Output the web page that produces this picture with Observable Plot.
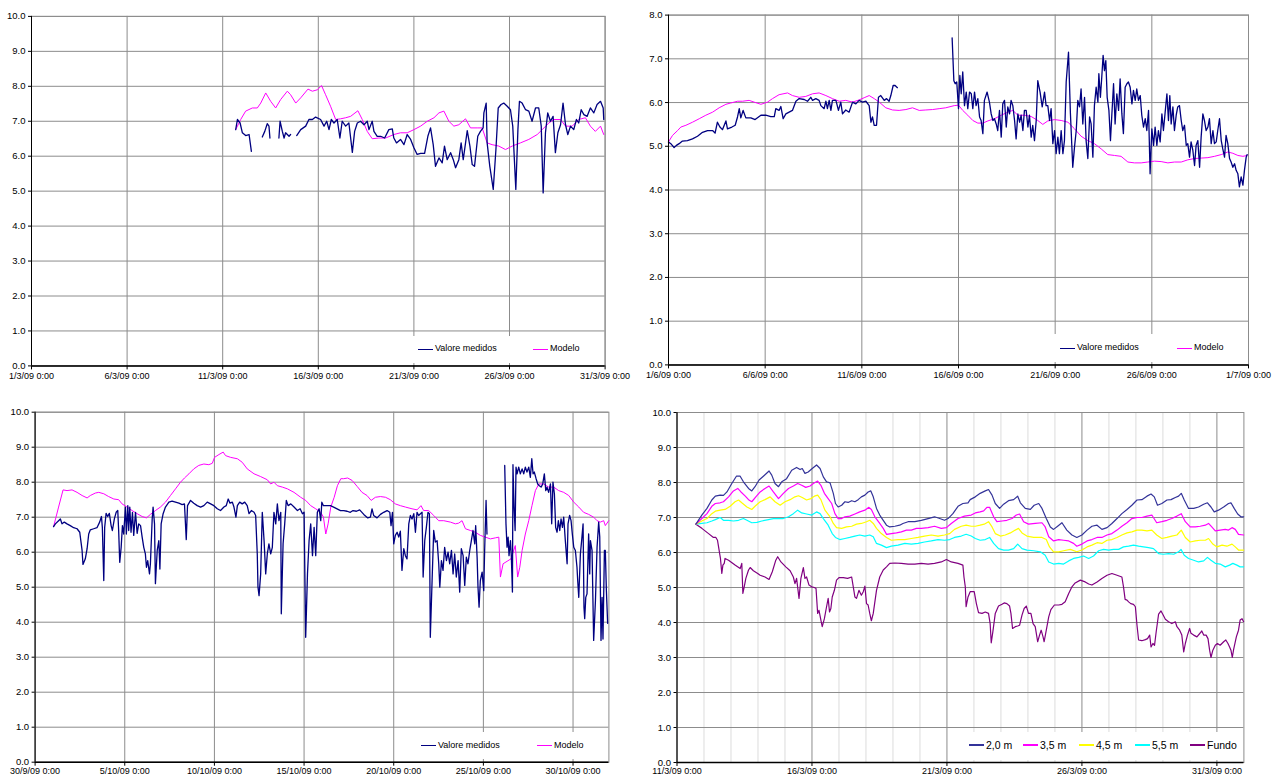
<!DOCTYPE html>
<html>
<head>
<meta charset="utf-8">
<script src="https://cdn.jsdelivr.net/npm/d3@7"></script>
<script src="https://cdn.jsdelivr.net/npm/@observablehq/plot@0.6"></script>
<style>
  html, body { margin: 0; padding: 0; background: #fff; overflow: hidden; width: 1272px; height: 776px; }
  #root { position: relative; width: 1272px; height: 776px; overflow: hidden; }
  .panel { position: absolute; }
  .legend { position: absolute; background: #fff; }
</style>
</head>
<body>
<div id="root"></div>
<script>
// ---------------- DATA (x = days since first axis date, y = value) ----------------
// Panel 1: March 2009 (1/3/09 .. 31/3/09)
const marchMeasured = [
[10.68,6.76],[10.77,7.05],[10.91,6.95],[11.03,6.67],[11.20,6.59],[11.38,6.62],[11.50,6.14],[11.8,null],
[12.07,6.55],[12.20,6.71],[12.33,6.93],[12.42,6.86],[12.47,6.52],[12.7,null],
[12.94,6.52],[13.00,7.00],[13.12,6.71],[13.21,6.52],[13.29,6.67],[13.47,6.57],[13.55,6.62],[13.7,null],
[13.87,6.59],[14.08,6.76],[14.34,6.86],[14.51,7.05],[14.69,7.05],[14.86,7.12],[15.12,7.05],[15.30,6.86],[15.44,7.00],[15.56,6.76],[15.68,7.05],[15.82,6.95],[15.99,7.05],[16.13,6.52],[16.25,7.00],[16.43,6.86],[16.60,6.95],[16.78,6.11],[16.90,6.71],[17.04,6.95],[17.21,7.00],[17.39,6.90],[17.56,7.00],[17.65,6.76],[17.82,7.00],[17.91,6.71],[18.08,6.57],[18.26,6.57],[18.47,6.52],[18.69,6.76],[18.87,6.78],[18.95,6.52],[19.09,6.38],[19.30,6.48],[19.48,6.33],[19.65,6.62],[19.83,6.48],[20.00,6.24],[20.17,6.05],[20.35,6.08],[20.56,6.08],[20.73,6.57],[20.87,6.81],[21.01,6.33],[21.13,5.71],[21.31,5.95],[21.48,5.81],[21.60,6.29],[21.74,5.90],[21.92,6.10],[22.06,5.90],[22.18,5.67],[22.35,5.90],[22.47,6.38],[22.58,5.90],[22.79,6.73],[22.93,6.29],[23.05,5.76],[23.17,5.71],[23.34,6.57],[23.48,6.71],[23.62,6.81],[23.66,7.24],[23.78,7.52],[23.83,6.38],[23.97,5.71],[24.15,5.05],[24.29,6.19],[24.41,7.38],[24.56,7.48],[24.70,7.52],[24.88,7.43],[25.05,7.33],[25.17,6.86],[25.33,5.05],[25.44,6.76],[25.52,7.57],[25.66,7.52],[25.84,7.33],[26.01,7.29],[26.18,7.00],[26.36,7.38],[26.53,7.38],[26.66,6.86],[26.76,4.95],[26.88,6.67],[27.00,7.24],[27.14,7.00],[27.28,7.14],[27.40,6.10],[27.53,6.67],[27.67,6.90],[27.80,7.52],[27.93,6.90],[28.05,6.62],[28.19,6.86],[28.36,6.76],[28.50,7.05],[28.62,6.95],[28.75,7.33],[28.89,7.19],[29.06,7.14],[29.23,7.38],[29.41,7.24],[29.58,7.48],[29.76,7.57],[29.90,7.38],[29.93,7.05]
];
const marchModel = [
[10.68,6.76],[10.94,7.05],[11.20,7.29],[11.55,7.38],[11.81,7.38],[11.99,7.52],[12.25,7.81],[12.51,7.57],[12.77,7.38],[13.03,7.62],[13.38,7.86],[13.55,7.76],[13.82,7.52],[14.08,7.67],[14.46,7.92],[14.69,7.86],[14.95,7.90],[15.17,8.02],[15.38,7.76],[15.64,7.43],[15.91,7.05],[16.17,7.07],[16.43,7.10],[16.69,7.14],[17.07,7.30],[17.30,7.05],[17.56,6.71],[17.82,6.50],[18.17,6.52],[18.52,6.52],[18.95,6.62],[19.30,6.67],[19.65,6.67],[20.00,6.76],[20.35,6.86],[20.70,7.00],[21.05,7.10],[21.31,7.24],[21.57,7.29],[21.83,7.00],[22.09,6.86],[22.35,6.90],[22.70,7.07],[22.96,6.81],[23.31,6.81],[23.57,6.81],[23.83,6.38],[24.09,6.33],[24.44,6.29],[24.79,6.19],[25.14,6.29],[25.57,6.38],[26.01,6.48],[26.45,6.62],[26.71,6.76],[27.06,6.95],[27.32,7.05],[27.67,7.05],[27.93,6.86],[28.28,6.86],[28.62,7.05],[28.97,7.10],[29.23,6.86],[29.49,6.71],[29.76,6.86],[29.93,6.62]
];

// Panel 2: June 2009 (1/6/09 .. 1/7/09)
const juneMeasured = [
[0,5.10],[0.12,5.06],[0.29,4.97],[0.41,5.02],[0.55,5.06],[0.72,5.12],[0.98,5.13],[1.24,5.17],[1.50,5.23],[1.76,5.32],[2.02,5.36],[2.28,5.36],[2.41,5.30],[2.53,5.55],[2.66,5.44],[2.79,5.38],[2.97,5.58],[3.05,5.40],[3.28,5.44],[3.45,5.48],[3.57,5.67],[3.66,5.86],[3.74,5.65],[3.86,5.82],[4.00,5.65],[4.26,5.65],[4.48,5.61],[4.78,5.71],[5.03,5.71],[5.29,5.68],[5.47,5.68],[5.55,5.86],[5.72,5.82],[5.81,5.91],[5.93,5.63],[6.07,5.74],[6.24,5.78],[6.41,5.82],[6.59,6.03],[6.76,6.09],[7.02,6.07],[7.19,6.03],[7.36,6.12],[7.45,6.05],[7.62,6.09],[7.79,6.05],[7.88,5.93],[8.05,5.86],[8.14,6.03],[8.22,5.86],[8.31,6.05],[8.40,5.82],[8.48,6.05],[8.66,6.05],[8.79,5.82],[8.91,6.01],[9.00,5.74],[9.17,5.83],[9.34,5.78],[9.52,6.01],[9.69,5.97],[9.86,6.05],[10.03,6.01],[10.21,6.03],[10.38,5.93],[10.47,5.55],[10.55,5.67],[10.64,5.48],[10.76,5.48],[10.86,6.12],[10.98,6.16],[11.16,6.05],[11.28,6.09],[11.41,6.03],[11.50,6.16],[11.62,6.39],[11.72,6.39],[11.84,6.34],[13.0,null],
[14.67,7.48],[14.76,6.50],[14.83,6.43],[14.91,6.47],[15.00,5.86],[15.07,6.62],[15.14,6.20],[15.22,6.70],[15.31,5.93],[15.40,6.24],[15.48,5.86],[15.57,6.24],[15.66,6.20],[15.74,5.86],[15.83,6.24],[15.91,5.93],[16.00,6.09],[16.09,5.67],[16.17,5.59],[16.26,5.29],[16.34,6.05],[16.48,6.24],[16.60,6.01],[16.69,5.74],[16.78,5.59],[16.86,5.63],[16.95,5.51],[17.03,5.36],[17.12,5.82],[17.21,5.21],[17.29,5.97],[17.38,6.05],[17.47,5.44],[17.55,5.90],[17.64,5.74],[17.72,6.05],[17.81,5.93],[17.90,5.59],[17.98,5.17],[18.07,5.74],[18.16,5.55],[18.24,5.71],[18.33,5.36],[18.41,5.82],[18.50,5.82],[18.59,5.44],[18.67,5.71],[18.76,5.21],[18.84,5.48],[18.93,5.13],[19.02,5.59],[19.10,6.50],[19.22,6.24],[19.33,5.90],[19.45,6.24],[19.53,5.93],[19.62,5.93],[19.71,5.59],[19.79,5.86],[19.88,5.06],[19.97,5.36],[20.05,4.83],[20.14,5.21],[20.22,4.83],[20.31,5.36],[20.40,4.83],[20.48,5.13],[20.57,6.47],[20.69,7.15],[20.79,5.74],[20.91,4.52],[21.00,4.98],[21.09,5.36],[21.17,6.05],[21.26,5.90],[21.34,6.31],[21.43,5.51],[21.52,6.12],[21.60,5.13],[21.69,4.72],[21.78,5.67],[21.86,5.51],[21.95,4.75],[22.03,5.93],[22.12,6.35],[22.21,6.01],[22.26,6.66],[22.34,6.12],[22.41,6.58],[22.48,7.08],[22.55,6.73],[22.62,6.96],[22.69,6.12],[22.78,5.82],[22.86,5.13],[22.93,5.71],[23.02,6.43],[23.10,5.51],[23.19,6.20],[23.28,5.82],[23.36,6.54],[23.45,5.74],[23.53,5.29],[23.62,6.35],[23.71,6.43],[23.79,6.47],[23.88,6.35],[23.97,5.97],[24.05,6.28],[24.14,6.05],[24.22,6.31],[24.31,6.05],[24.40,6.16],[24.48,5.71],[24.57,5.44],[24.66,5.63],[24.74,5.36],[24.83,5.82],[24.91,4.37],[25.00,5.40],[25.09,5.02],[25.17,5.44],[25.26,5.02],[25.34,5.36],[25.43,5.10],[25.52,5.74],[25.60,5.36],[25.69,5.78],[25.78,6.20],[25.86,5.59],[25.93,6.16],[26.00,5.51],[26.09,5.90],[26.17,5.36],[26.26,5.71],[26.34,5.90],[26.43,5.93],[26.52,5.59],[26.60,5.36],[26.69,5.48],[26.78,5.02],[26.86,5.06],[26.95,4.75],[27.03,5.10],[27.12,4.91],[27.21,4.56],[27.29,5.02],[27.38,5.13],[27.47,4.52],[27.55,5.21],[27.64,5.74],[27.72,5.59],[27.81,5.36],[27.90,5.44],[27.98,5.63],[28.07,5.06],[28.16,5.36],[28.24,5.06],[28.33,5.10],[28.41,5.36],[28.50,5.63],[28.59,5.13],[28.67,4.94],[28.76,4.75],[28.84,5.25],[28.93,5.06],[29.02,4.72],[29.10,4.64],[29.19,4.52],[29.28,4.60],[29.36,4.45],[29.45,4.37],[29.53,4.07],[29.62,4.30],[29.71,4.11],[29.79,4.45],[29.88,4.75],[29.93,4.81]
];
const juneModel = [
[0,5.10],[0.21,5.25],[0.47,5.36],[0.64,5.44],[0.90,5.48],[1.24,5.55],[1.59,5.63],[1.93,5.71],[2.28,5.78],[2.62,5.88],[2.97,5.96],[3.22,5.99],[3.57,6.03],[3.83,6.03],[4.17,6.05],[4.43,6.01],[4.78,5.96],[5.12,6.01],[5.38,6.09],[5.72,6.18],[6.16,6.22],[6.41,6.16],[6.76,6.12],[7.10,6.14],[7.45,6.20],[7.79,6.22],[8.14,6.16],[8.48,6.09],[8.83,6.03],[9.17,6.05],[9.52,6.01],[9.86,6.06],[10.12,6.11],[10.38,6.16],[10.64,6.09],[10.90,6.01],[11.24,5.88],[11.59,5.83],[11.93,5.82],[12.28,5.84],[12.62,5.88],[12.97,5.82],[13.31,5.83],[13.66,5.84],[14.00,5.86],[14.34,5.88],[14.78,5.93],
[15.00,5.94],[15.22,5.82],[15.48,5.71],[15.74,5.59],[16.00,5.53],[16.26,5.53],[16.52,5.58],[16.86,5.63],[17.21,5.71],[17.55,5.78],[17.81,5.82],[18.07,5.71],[18.41,5.71],[18.76,5.68],[19.10,5.59],[19.36,5.50],[19.62,5.58],[19.97,5.61],[20.31,5.59],[20.66,5.55],[21.00,5.40],[21.34,5.23],[21.69,5.13],[22.03,5.06],[22.38,4.94],[22.72,4.81],[23.07,4.79],[23.41,4.77],[23.76,4.64],[24.10,4.62],[24.45,4.62],[24.79,4.64],[25.14,4.66],[25.48,4.65],[25.83,4.62],[26.17,4.64],[26.52,4.64],[26.86,4.69],[27.21,4.72],[27.55,4.73],[27.90,4.74],[28.24,4.77],[28.59,4.81],[28.93,4.87],[29.19,4.84],[29.45,4.79],[29.71,4.77],[29.93,4.79]
];

// Panel 3: October 2009 (30/9/09 .. 1/11/09)
const octMeasured = [
[1.03,6.73],[1.13,6.81],[1.31,6.90],[1.41,6.95],[1.50,6.81],[1.63,6.86],[1.78,6.81],[1.96,6.76],[2.15,6.70],[2.34,6.67],[2.49,6.57],[2.62,6.05],[2.67,5.65],[2.80,5.81],[2.90,6.10],[2.99,6.52],[3.08,6.64],[3.27,6.67],[3.45,6.70],[3.60,6.86],[3.70,7.02],[3.75,6.71],[3.83,5.19],[3.88,6.71],[3.96,7.11],[4.05,7.02],[4.14,7.11],[4.24,6.76],[4.31,6.62],[4.42,6.95],[4.52,7.14],[4.61,7.19],[4.66,6.62],[4.72,5.71],[4.80,6.14],[4.87,6.76],[4.94,6.52],[5.04,7.29],[5.09,6.52],[5.17,7.33],[5.22,6.62],[5.28,7.29],[5.35,6.57],[5.43,7.14],[5.50,6.48],[5.60,7.14],[5.69,6.54],[5.78,6.81],[5.88,6.76],[5.97,6.43],[6.06,6.14],[6.15,5.95],[6.21,5.57],[6.28,5.76],[6.38,5.38],[6.43,5.67],[6.53,6.95],[6.58,7.29],[6.66,6.81],[6.71,5.10],[6.81,6.05],[6.90,6.33],[6.96,5.52],[7.03,6.81],[7.14,7.10],[7.27,7.29],[7.46,7.43],[7.64,7.46],[7.83,7.43],[8.02,7.40],[8.20,7.36],[8.33,7.38],[8.43,6.36],[8.50,7.33],[8.67,7.48],[8.85,7.40],[9.04,7.33],[9.23,7.29],[9.41,7.33],[9.60,7.43],[9.79,7.38],[9.97,7.33],[10.16,7.24],[10.34,7.19],[10.53,7.29],[10.66,7.33],[10.77,7.52],[10.87,7.40],[11.00,7.43],[11.09,7.29],[11.20,7.00],[11.28,7.33],[11.41,7.43],[11.55,7.38],[11.69,7.43],[11.83,7.33],[11.93,7.10],[12.06,7.19],[12.21,7.14],[12.30,7.05],[12.39,5.95],[12.43,5.00],[12.49,4.76],[12.58,5.38],[12.67,7.14],[12.77,6.33],[12.86,5.38],[12.95,5.95],[13.04,6.24],[13.14,5.95],[13.23,6.14],[13.32,7.14],[13.42,6.81],[13.51,7.38],[13.60,6.90],[13.70,7.14],[13.73,4.24],[13.83,6.24],[13.92,6.81],[14.01,7.48],[14.11,7.33],[14.26,7.38],[14.44,7.29],[14.63,7.19],[14.78,7.24],[14.91,7.10],[15.00,7.14],[15.09,3.57],[15.19,5.38],[15.28,6.33],[15.37,6.81],[15.47,5.90],[15.56,6.71],[15.65,5.90],[15.74,7.14],[15.84,7.24],[15.93,6.90],[15.99,7.43],[16.08,7.33],[16.30,7.33],
[16.47,7.33],[16.65,7.29],[16.84,7.24],[17.03,7.19],[17.21,7.19],[17.40,7.17],[17.58,7.14],[17.73,7.19],[17.92,7.17],[18.10,7.21],[18.33,7.08],[18.55,6.98],[18.70,7.00],[18.79,7.24],[18.88,7.05],[19.07,6.98],[19.26,7.08],[19.44,7.14],[19.63,7.19],[19.78,7.14],[19.85,6.76],[19.93,7.14],[20.00,6.24],[20.09,6.48],[20.19,6.57],[20.28,6.43],[20.37,6.60],[20.46,5.48],[20.56,6.10],[20.65,5.90],[20.74,5.81],[20.84,6.81],[20.93,7.05],[21.02,6.95],[21.12,7.10],[21.21,6.57],[21.30,7.14],[21.39,7.05],[21.49,7.10],[21.58,7.14],[21.64,5.29],[21.73,6.33],[21.82,6.71],[21.91,7.14],[21.99,7.10],[22.04,3.57],[22.14,5.19],[22.23,6.62],[22.32,6.29],[22.42,6.33],[22.51,5.67],[22.57,5.00],[22.66,5.76],[22.75,5.48],[22.84,6.14],[22.94,5.76],[23.03,6.00],[23.12,5.67],[23.22,6.05],[23.31,5.38],[23.40,5.95],[23.49,5.29],[23.59,5.76],[23.68,4.86],[23.77,6.10],[23.87,5.90],[23.96,5.05],[24.05,5.86],[24.14,5.67],[24.24,6.05],[24.33,6.33],[24.42,6.62],[24.52,6.24],[24.57,6.76],[24.65,5.86],[24.70,5.00],[24.76,4.43],[24.83,5.19],[24.93,5.43],[25.02,4.90],[25.07,6.05],[25.15,7.48],[25.20,6.52],[25.7,null],
[26.19,8.48],[26.26,6.81],[26.32,6.14],[26.38,6.43],[26.43,5.90],[26.51,6.33],[26.56,5.86],[26.62,4.86],[26.65,8.50],[26.71,7.29],[26.77,6.62],[26.82,8.43],[26.88,8.24],[26.97,8.43],[27.06,8.24],[27.16,8.38],[27.25,8.24],[27.34,8.43],[27.43,8.29],[27.53,8.43],[27.62,8.14],[27.70,8.67],[27.77,8.24],[27.84,8.29],[27.94,8.10],[28.03,7.95],[28.12,7.90],[28.22,7.86],[28.31,7.95],[28.40,8.24],[28.48,7.76],[28.55,7.86],[28.64,7.71],[28.74,7.95],[28.81,6.81],[28.88,8.00],[28.96,7.67],[29.03,6.71],[29.11,6.57],[29.18,6.90],[29.26,6.62],[29.33,6.95],[29.41,6.71],[29.48,7.00],[29.57,6.33],[29.67,5.67],[29.72,6.81],[29.81,7.05],[29.89,6.90],[29.96,6.52],[30.04,6.14],[30.13,6.05],[30.22,5.57],[30.26,5.19],[30.32,4.71],[30.41,5.95],[30.48,6.33],[30.56,6.81],[30.61,4.43],[30.65,4.10],[30.71,4.71],[30.78,4.81],[30.87,6.52],[30.93,5.38],[30.97,6.33],[31.06,6.05],[31.15,3.48],[31.25,4.62],[31.34,6.14],[31.43,6.86],[31.49,6.43],[31.56,3.48],[31.62,4.71],[31.67,3.52],[31.75,6.05],[31.80,6.05],[31.86,4.90],[31.93,3.97]
];
const octModel = [
[1.03,6.73],[1.31,7.29],[1.56,7.78],[1.78,7.76],[2.06,7.78],[2.34,7.71],[2.62,7.62],[2.90,7.55],[3.08,7.62],[3.36,7.69],[3.55,7.71],[3.83,7.67],[4.10,7.59],[4.39,7.52],[4.66,7.50],[4.85,7.38],[5.13,7.29],[5.41,7.19],[5.69,7.10],[5.97,7.02],[6.21,6.98],[6.43,7.08],[6.71,7.19],[6.99,7.29],[7.27,7.43],[7.55,7.62],[7.83,7.81],[8.11,8.00],[8.33,8.12],[8.58,8.24],[8.85,8.38],[9.13,8.48],[9.41,8.52],[9.69,8.50],[9.88,8.54],[10.01,8.71],[10.25,8.79],[10.49,8.86],[10.62,8.76],[10.90,8.71],[11.28,8.67],[11.55,8.57],[11.83,8.38],[12.21,8.24],[12.58,8.16],[12.95,8.07],[13.14,7.95],[13.32,8.00],[13.51,7.90],[13.79,7.86],[14.07,7.81],[14.44,7.71],[14.81,7.57],[15.09,7.48],[15.37,7.33],[15.65,7.24],[15.93,7.14],[16.08,7.00],[16.21,6.52],[16.34,6.81],[16.49,7.29],[16.68,7.57],[16.86,7.90],[17.05,8.10],
[17.21,8.10],[17.43,8.12],[17.68,8.05],[17.96,7.88],[18.23,7.71],[18.51,7.62],[18.74,7.48],[18.98,7.57],[19.26,7.59],[19.54,7.57],[19.81,7.50],[20.09,7.38],[20.37,7.33],[20.65,7.29],[21.02,7.24],[21.30,7.21],[21.52,7.33],[21.67,7.19],[21.95,7.19],[22.23,7.05],[22.51,6.90],[22.79,6.90],[23.16,6.86],[23.44,6.81],[23.62,6.83],[23.81,6.90],[24.00,6.67],[24.28,6.62],[24.55,6.57],[24.83,6.48],[25.11,6.43],[25.39,6.38],[25.67,6.41],[25.86,6.43],[25.95,5.29],[26.10,5.67],[26.32,5.74],[26.54,5.81],[26.78,6.19],[26.91,5.29],[27.03,5.57],[27.16,6.05],[27.34,6.52],[27.53,6.90],[27.71,7.33],[27.90,7.76],[28.09,7.95],[28.36,7.95],[28.64,7.86],[28.92,7.86],[29.20,7.76],[29.48,7.71],[29.76,7.62],[30.04,7.43],[30.32,7.29],[30.59,7.14],[30.87,7.08],[31.15,7.00],[31.34,6.90],[31.52,6.86],[31.71,6.90],[31.80,6.76],[31.99,6.90]
];

// Panel 4: depth profiles (11/3/09 .. 1/4/09)
const depth20 = [
[0.70,6.81],[0.92,7.07],[1.11,7.26],[1.29,7.50],[1.42,7.61],[1.60,7.64],[1.72,7.63],[1.85,7.73],[2.03,7.97],[2.20,8.18],[2.34,8.18],[2.46,8.02],[2.65,7.83],[2.77,7.76],[2.89,7.88],[3.04,8.07],[3.20,8.18],[3.41,8.33],[3.51,8.21],[3.63,7.97],[3.76,7.88],[3.88,8.02],[4.06,8.11],[4.25,8.35],[4.43,8.43],[4.56,8.37],[4.64,8.40],[4.74,8.26],[4.86,8.30],[5.01,8.40],[5.17,8.50],[5.30,8.40],[5.42,8.16],[5.54,8.02],[5.67,7.99],[5.79,7.69],[5.87,7.40],[5.97,7.30],[6.10,7.35],[6.22,7.45],[6.34,7.43],[6.47,7.48],[6.59,7.45],[6.71,7.51],[6.83,7.59],[6.96,7.64],[7.08,7.73],[7.18,7.76],[7.27,7.59],[7.39,7.26],[7.51,7.07],[7.64,6.92],[7.76,6.78],[7.88,6.73],[8.07,6.75],[8.25,6.78],[8.37,6.83],[8.56,6.88],[8.81,6.88],[9.05,6.92],[9.30,6.97],[9.54,7.02],[9.73,6.97],[9.91,6.92],[10.04,6.97],[10.22,7.11],[10.41,7.32],[10.59,7.40],[10.78,7.42],
[10.86,7.51],[11.05,7.59],[11.23,7.69],[11.42,7.76],[11.54,7.80],[11.67,7.64],[11.79,7.40],[11.95,7.26],[12.10,7.38],[12.28,7.48],[12.47,7.51],[12.62,7.61],[12.72,7.42],[12.90,7.26],[13.09,7.23],[13.23,7.35],[13.40,7.40],[13.52,7.26],[13.68,6.97],[13.83,6.73],[13.95,6.66],[14.10,6.75],[14.26,6.85],[14.44,6.64],[14.63,6.50],[14.81,6.43],[15.00,6.50],[15.19,6.64],[15.37,6.75],[15.56,6.78],[15.74,6.66],[15.93,6.71],[16.11,6.83],[16.30,6.97],[16.48,7.11],[16.67,7.23],[16.85,7.35],[17.04,7.50],[17.22,7.51],[17.41,7.61],[17.56,7.67],[17.68,7.59],[17.80,7.35],[17.96,7.40],[18.15,7.50],[18.30,7.51],[18.46,7.57],[18.58,7.61],[18.68,7.69],[18.79,7.50],[18.95,7.26],[19.14,7.26],[19.32,7.30],[19.51,7.38],[19.65,7.42],[19.78,7.30],[19.90,7.16],[20.06,7.21],[20.25,7.30],[20.43,7.40],[20.52,7.42],[20.64,7.26],[20.77,7.10],[20.89,7.02],[20.99,7.02]
];
const depth35 = [
[0.70,6.81],[0.92,6.97],[1.11,7.11],[1.29,7.32],[1.42,7.40],[1.60,7.42],[1.72,7.45],[1.91,7.59],[2.09,7.76],[2.25,7.83],[2.37,7.73],[2.53,7.61],[2.65,7.51],[2.77,7.45],[2.92,7.59],[3.08,7.73],[3.26,7.83],[3.41,7.90],[3.57,7.73],[3.76,7.54],[3.94,7.69],[4.13,7.83],[4.31,7.90],[4.47,7.97],[4.62,7.92],[4.77,7.86],[4.93,7.90],[5.05,7.97],[5.21,8.04],[5.33,7.92],[5.46,7.69],[5.60,7.54],[5.73,7.40],[5.85,7.11],[5.97,6.97],[6.10,6.97],[6.22,7.02],[6.40,7.04],[6.59,7.10],[6.77,7.16],[6.96,7.21],[7.11,7.29],[7.20,7.23],[7.33,7.02],[7.51,6.83],[7.64,6.69],[7.76,6.52],[7.94,6.54],[8.13,6.56],[8.31,6.59],[8.50,6.64],[8.68,6.64],[8.87,6.69],[9.05,6.69],[9.30,6.71],[9.54,6.75],[9.79,6.69],[9.98,6.71],[10.16,6.83],[10.41,6.97],[10.65,7.04],[10.90,7.07],
[11.05,7.13],[11.23,7.16],[11.36,7.19],[11.48,7.29],[11.58,7.29],[11.73,7.02],[11.85,6.88],[12.04,6.90],[12.22,6.92],[12.41,6.97],[12.57,7.07],[12.69,7.10],[12.84,6.88],[13.02,6.81],[13.27,6.83],[13.52,6.85],[13.64,6.73],[13.77,6.45],[13.95,6.33],[14.14,6.37],[14.32,6.35],[14.51,6.33],[14.69,6.26],[14.81,6.18],[15.00,6.24],[15.19,6.33],[15.37,6.37],[15.56,6.43],[15.74,6.43],[15.93,6.50],[16.11,6.54],[16.30,6.64],[16.48,6.75],[16.67,6.85],[16.85,6.97],[17.04,7.00],[17.22,7.00],[17.41,7.04],[17.59,7.07],[17.77,6.85],[17.96,6.88],[18.15,6.92],[18.33,6.97],[18.52,7.04],[18.68,7.11],[18.83,6.88],[19.01,6.73],[19.20,6.73],[19.38,6.75],[19.57,6.78],[19.69,6.83],[19.81,6.73],[19.94,6.62],[20.12,6.64],[20.31,6.66],[20.43,6.64],[20.56,6.71],[20.68,6.66],[20.80,6.52],[20.99,6.50]
];
const depth45 = [
[0.70,6.81],[0.92,6.90],[1.11,6.97],[1.29,7.11],[1.42,7.18],[1.60,7.21],[1.78,7.23],[1.97,7.32],[2.15,7.45],[2.28,7.50],[2.40,7.42],[2.59,7.30],[2.77,7.23],[2.89,7.32],[3.08,7.45],[3.26,7.51],[3.45,7.59],[3.63,7.45],[3.82,7.35],[4.00,7.45],[4.19,7.51],[4.37,7.59],[4.50,7.62],[4.64,7.57],[4.80,7.50],[4.96,7.54],[5.09,7.61],[5.21,7.64],[5.33,7.51],[5.48,7.21],[5.67,7.02],[5.79,6.83],[5.91,6.71],[6.10,6.69],[6.28,6.73],[6.47,6.75],[6.65,6.81],[6.83,6.83],[7.02,6.88],[7.14,6.92],[7.27,6.83],[7.39,6.69],[7.57,6.54],[7.76,6.43],[7.94,6.35],[8.19,6.37],[8.44,6.37],[8.68,6.40],[8.93,6.43],[9.17,6.47],[9.42,6.50],[9.67,6.47],[9.91,6.50],[10.10,6.54],[10.28,6.66],[10.53,6.75],[10.71,6.78],[10.90,6.75],
[11.05,6.75],[11.23,6.78],[11.38,6.81],[11.54,6.88],[11.67,6.73],[11.79,6.54],[11.98,6.47],[12.16,6.50],[12.35,6.56],[12.53,6.64],[12.65,6.69],[12.78,6.56],[12.96,6.47],[13.21,6.43],[13.52,6.43],[13.68,6.37],[13.80,6.16],[13.95,6.02],[14.14,6.02],[14.32,6.05],[14.57,6.09],[14.81,6.02],[15.00,6.07],[15.19,6.16],[15.37,6.21],[15.56,6.28],[15.74,6.26],[15.93,6.35],[16.11,6.37],[16.30,6.43],[16.48,6.50],[16.67,6.56],[16.85,6.59],[17.04,6.64],[17.22,6.64],[17.41,6.62],[17.59,6.64],[17.77,6.50],[17.96,6.40],[18.15,6.43],[18.33,6.47],[18.52,6.50],[18.68,6.64],[18.83,6.43],[19.01,6.30],[19.20,6.33],[19.38,6.35],[19.57,6.35],[19.69,6.40],[19.85,6.24],[20.00,6.16],[20.19,6.21],[20.37,6.18],[20.56,6.24],[20.68,6.16],[20.80,6.07],[20.99,6.07]
];
const depth55 = [
[0.70,6.81],[0.92,6.83],[1.11,6.85],[1.29,6.90],[1.42,6.94],[1.60,7.00],[1.72,6.92],[1.91,6.92],[2.09,6.90],[2.28,6.92],[2.46,6.97],[2.59,6.92],[2.77,6.85],[2.96,6.86],[3.14,6.90],[3.39,6.94],[3.57,6.97],[3.76,6.97],[3.94,6.97],[4.13,7.02],[4.31,7.11],[4.47,7.21],[4.62,7.13],[4.80,7.10],[4.99,7.07],[5.17,7.16],[5.30,7.11],[5.42,6.97],[5.60,6.78],[5.75,6.54],[5.87,6.43],[6.03,6.37],[6.22,6.40],[6.40,6.43],[6.59,6.47],[6.77,6.50],[6.96,6.47],[7.14,6.50],[7.27,6.45],[7.39,6.26],[7.57,6.21],[7.76,6.14],[7.94,6.18],[8.19,6.21],[8.44,6.26],[8.68,6.24],[8.93,6.26],[9.17,6.30],[9.42,6.33],[9.67,6.37],[9.91,6.35],[10.10,6.37],[10.28,6.43],[10.53,6.47],[10.71,6.52],[10.90,6.47],
[11.05,6.40],[11.23,6.35],[11.42,6.37],[11.58,6.43],[11.73,6.26],[11.91,6.11],[12.10,6.07],[12.28,6.07],[12.47,6.11],[12.62,6.24],[12.78,6.11],[12.96,6.07],[13.21,6.05],[13.46,6.02],[13.64,5.92],[13.77,5.73],[13.95,5.67],[14.14,5.69],[14.32,5.67],[14.51,5.76],[14.69,5.83],[14.88,5.86],[15.06,5.90],[15.25,5.83],[15.43,5.90],[15.62,6.05],[15.80,6.09],[15.99,6.07],[16.17,6.09],[16.36,6.09],[16.54,6.16],[16.73,6.18],[16.91,6.21],[17.10,6.18],[17.28,6.16],[17.47,6.14],[17.65,6.11],[17.84,5.97],[18.02,5.95],[18.21,5.97],[18.40,5.95],[18.58,6.02],[18.67,6.09],[18.79,5.92],[18.95,5.83],[19.14,5.78],[19.32,5.73],[19.51,5.76],[19.65,5.86],[19.78,5.78],[19.94,5.69],[20.12,5.67],[20.31,5.59],[20.47,5.64],[20.59,5.69],[20.74,5.64],[20.86,5.59],[20.99,5.59]
];
const fundo = [
[0.70,6.81],[0.92,6.69],[1.17,6.54],[1.35,6.43],[1.44,6.43],[1.50,6.35],[1.54,6.16],[1.58,5.97],[1.61,5.83],[1.66,5.40],[1.70,5.64],[1.75,5.69],[1.78,5.83],[1.91,5.78],[2.15,5.64],[2.34,5.54],[2.40,5.69],[2.44,4.83],[2.49,5.02],[2.55,5.26],[2.65,5.50],[2.71,5.57],[2.83,5.48],[2.99,5.40],[3.08,5.35],[3.26,5.30],[3.41,5.23],[3.53,5.45],[3.66,5.78],[3.73,5.88],[3.85,5.73],[4.03,5.59],[4.19,5.48],[4.31,5.30],[4.37,5.11],[4.43,5.26],[4.52,4.69],[4.59,5.26],[4.68,5.57],[4.74,5.26],[4.80,5.30],[4.89,5.07],[4.99,5.02],[5.09,5.00],[5.15,4.97],[5.21,4.26],[5.26,4.35],[5.33,4.07],[5.38,3.88],[5.46,4.11],[5.54,4.45],[5.60,4.69],[5.65,4.30],[5.70,4.40],[5.75,4.73],[5.83,4.92],[5.91,5.21],[6.00,5.28],[6.16,5.28],[6.32,5.26],[6.47,5.30],[6.53,5.02],[6.59,4.73],[6.65,4.69],[6.74,4.92],[6.83,4.78],[6.90,4.88],[6.96,5.04],[7.02,4.54],[7.08,4.50],[7.14,4.26],[7.20,4.05],[7.27,4.26],[7.39,4.92],[7.51,5.30],[7.64,5.50],[7.76,5.59],[7.88,5.69],[8.07,5.70],[8.31,5.69],[8.56,5.67],[8.81,5.67],[9.05,5.69],[9.30,5.67],[9.54,5.69],[9.79,5.73],[9.98,5.80],[10.16,5.73],[10.41,5.69],[10.59,5.64],[10.63,5.30],[10.68,5.02],[10.71,4.45],[10.78,4.73],[10.86,4.88],[11.01,4.88],[11.09,4.54],[11.17,4.28],[11.30,4.26],[11.42,4.30],[11.54,4.26],[11.60,3.97],[11.64,3.42],[11.70,3.73],[11.79,4.26],[11.91,4.47],[12.04,4.52],[12.12,4.56],[12.22,4.54],[12.32,4.47],[12.37,4.26],[12.43,3.83],[12.53,3.88],[12.62,3.90],[12.69,3.92],[12.78,4.21],[12.86,4.40],[12.94,4.47],[13.02,4.26],[13.11,4.26],[13.19,3.97],[13.27,3.88],[13.36,3.45],[13.43,3.64],[13.49,3.78],[13.56,3.59],[13.60,3.45],[13.68,3.78],[13.77,4.16],[13.85,4.37],[13.98,4.50],[14.14,4.50],[14.26,4.52],[14.38,4.59],[14.51,4.83],[14.63,5.02],[14.75,5.13],[14.94,5.21],[15.12,5.16],[15.25,5.10],[15.37,5.07],[15.56,5.16],[15.74,5.26],[15.93,5.35],[16.11,5.40],[16.30,5.35],[16.48,5.30],[16.54,5.02],[16.60,4.66],[16.67,4.64],[16.73,4.59],[16.81,4.54],[16.91,4.52],[16.98,4.45],[17.04,3.92],[17.10,3.50],[17.22,3.48],[17.35,3.51],[17.43,3.54],[17.51,3.64],[17.56,3.30],[17.63,3.40],[17.69,3.35],[17.75,3.73],[17.84,4.24],[17.93,4.33],[17.99,4.24],[18.09,4.09],[18.21,4.02],[18.33,3.97],[18.46,4.02],[18.52,3.88],[18.62,3.78],[18.70,3.64],[18.77,3.16],[18.83,3.40],[18.91,3.64],[18.99,3.83],[19.04,3.69],[19.14,3.64],[19.26,3.59],[19.38,3.70],[19.44,3.76],[19.51,3.64],[19.60,3.64],[19.67,3.54],[19.73,3.21],[19.78,3.00],[19.85,3.21],[19.94,3.35],[20.02,3.40],[20.12,3.35],[20.25,3.45],[20.33,3.50],[20.41,3.40],[20.47,3.30],[20.52,3.21],[20.57,3.00],[20.62,3.23],[20.72,3.59],[20.80,3.78],[20.86,4.07],[20.93,4.11],[20.99,4.02]
];

// Tick positions and labels
const ticks30 = [0, 5, 10, 15, 20, 25, 30];
const ticks21 = [0, 5, 10, 15, 20];
const dailyTicks21 = [1,2,3,4,6,7,8,9,11,12,13,14,16,17,18,19];
const marchLabels = ["1/3/09 0:00","6/3/09 0:00","11/3/09 0:00","16/3/09 0:00","21/3/09 0:00","26/3/09 0:00","31/3/09 0:00"];
const juneLabels = ["1/6/09 0:00","6/6/09 0:00","11/6/09 0:00","16/6/09 0:00","21/6/09 0:00","26/6/09 0:00","1/7/09 0:00"];
const octLabels = ["30/9/09 0:00","5/10/09 0:00","10/10/09 0:00","15/10/09 0:00","20/10/09 0:00","25/10/09 0:00","30/10/09 0:00"];
const depthLabels = ["11/3/09 0:00","16/3/09 0:00","21/3/09 0:00","26/3/09 0:00","31/3/09 0:00"];
const yTicks10 = [0,1,2,3,4,5,6,7,8,9,10];
const yLabels10 = ["0.0","1.0","2.0","3.0","4.0","5.0","6.0","7.0","8.0","9.0","10.0"];
const yTicks8 = [0,1,2,3,4,5,6,7,8];
const yLabels8 = ["0.0","1.0","2.0","3.0","4.0","5.0","6.0","7.0","8.0"];

const measuredName = "Valore medidos", modelName = "Modelo";
const depthNames = ["2,0 m", "3,5 m", "4,5 m", "5,5 m", "Fundo"];

// ---------------- DRAWING ----------------
const FONT = "'Liberation Sans', Arial, Helvetica, sans-serif";
const GRID = "#8c8c8c";
const root = document.getElementById("root");

function rows(arr) { return arr.map(([d, v]) => ({d, v})); }

function panel(cfg) {
  const xLab = new Map(cfg.xTicks.map((d, i) => [d, cfg.xLabels[i]]));
  const yLab = new Map(cfg.yTicks.map((d, i) => [d, cfg.yLabels[i]]));
  const marks = [];
  if (cfg.minor) marks.push(Plot.gridX(cfg.minor, {stroke: "#dcdcdc", strokeOpacity: 1, strokeWidth: 1}));
  marks.push(Plot.gridY(cfg.yTicks, {stroke: GRID, strokeOpacity: 1, strokeWidth: 1}));
  marks.push(Plot.gridX(cfg.xTicks, {stroke: GRID, strokeOpacity: 1, strokeWidth: 1}));
  marks.push(Plot.frame({stroke: GRID, strokeWidth: 1}));
  for (const s of cfg.series) {
    marks.push(Plot.line(rows(s.data), {x: "d", y: "v", stroke: s.color, strokeWidth: s.width, strokeLinejoin: "round"}));
  }
  marks.push(Plot.ruleY([cfg.yDomain[0]], {stroke: "#000", strokeWidth: 1.5}));
  marks.push(Plot.ruleX([cfg.xDomain[0]], {stroke: "#000", strokeWidth: 1}));
  marks.push(Plot.axisX(cfg.xTicks, {label: null, tickSize: 4, tickPadding: cfg.xPad ?? 3, tickFormat: d => xLab.get(d), fontSize: 9, stroke: "#000"}));
  marks.push(Plot.axisY(cfg.yTicks, {label: null, tickSize: 3, tickPadding: 3, tickFormat: d => yLab.get(d), fontSize: 9.5, stroke: "#000"}));
  const svg = Plot.plot({
    width: cfg.width, height: cfg.height,
    marginLeft: cfg.m[0], marginRight: cfg.m[1], marginTop: cfg.m[2], marginBottom: cfg.m[3],
    x: {domain: cfg.xDomain, label: null},
    y: {domain: cfg.yDomain, label: null},
    style: {fontFamily: FONT, fontSize: "9px", color: "#000", background: "white", overflow: "visible"},
    marks
  });
  const wrap = document.createElement("div");
  wrap.className = "panel";
  wrap.style.left = cfg.left + "px";
  wrap.style.top = cfg.top + "px";
  wrap.appendChild(svg);
  root.appendChild(wrap);
}

function legend(box, items, fontSize) {
  const div = document.createElement("div");
  div.className = "legend";
  Object.assign(div.style, {left: box.l + "px", top: box.t + "px", width: box.w + "px", height: box.h + "px"});
  for (const it of items) {
    const sw = document.createElement("div");
    Object.assign(sw.style, {position: "absolute", left: (it.x - box.l) + "px", top: (box.cy - box.t - 0.75) + "px",
      width: "15px", height: "1.5px", background: it.color});
    const tx = document.createElement("div");
    tx.textContent = it.name;
    Object.assign(tx.style, {position: "absolute", left: (it.x - box.l + 17) + "px", top: (box.cy - box.t) + "px",
      transform: "translateY(-52%)", font: fontSize + "px " + FONT, color: "#000", whiteSpace: "nowrap", lineHeight: "1"});
    div.appendChild(sw); div.appendChild(tx);
  }
  root.appendChild(div);
}

const NAVY = "#000080", MAGENTA = "#ff00ff";

// Panel 1
panel({left: 0, top: 0, width: 636, height: 395, m: [31, 31.4, 15.9, 29.6],
  xDomain: [0, 30], xTicks: ticks30, xLabels: marchLabels,
  yDomain: [0, 10], yTicks: yTicks10, yLabels: yLabels10,
  series: [{data: marchModel, color: MAGENTA, width: 1}, {data: marchMeasured, color: NAVY, width: 1.3}]});
legend({l: 408, t: 335.5, w: 188, h: 27.5, cy: 349.3},
  [{name: measuredName, color: NAVY, x: 418}, {name: modelName, color: MAGENTA, x: 533}], 9);

// Panel 2
panel({left: 636, top: 0, width: 636, height: 395, m: [32, 24, 14.6, 30.6],
  xDomain: [0, 30], xTicks: ticks30, xLabels: juneLabels,
  yDomain: [0, 8], yTicks: yTicks8, yLabels: yLabels8,
  series: [{data: juneModel, color: MAGENTA, width: 1}, {data: juneMeasured, color: NAVY, width: 1.3}]});
legend({l: 1050, t: 334.4, w: 188, h: 27.5, cy: 348.3},
  [{name: measuredName, color: NAVY, x: 1060}, {name: modelName, color: MAGENTA, x: 1177}], 9);

// Panel 3
panel({left: 0, top: 395, width: 636, height: 381, m: [34.6, 27.6, 16.7, 14.3], xPad: 1,
  xDomain: [0, 32], xTicks: ticks30, xLabels: octLabels,
  yDomain: [0, 10], yTicks: yTicks10, yLabels: yLabels10,
  series: [{data: octModel, color: MAGENTA, width: 1}, {data: octMeasured, color: NAVY, width: 1.3}]});
legend({l: 410, t: 731.7, w: 190, h: 27.5, cy: 745.7},
  [{name: measuredName, color: NAVY, x: 421}, {name: modelName, color: MAGENTA, x: 537}], 9);

// Panel 4
const depthColors = ["#333399", "#ff00ff", "#ffff00", "#00ffff", "#800080"];
panel({left: 636, top: 395, width: 636, height: 381, m: [40.5, 28.6, 17, 14], xPad: 1,
  xDomain: [0, 21], xTicks: ticks21, xLabels: depthLabels, minor: dailyTicks21,
  yDomain: [0, 10], yTicks: yTicks10, yLabels: yLabels10,
  series: [
    {data: fundo, color: depthColors[4], width: 1.2},
    {data: depth55, color: depthColors[3], width: 1.2},
    {data: depth45, color: depthColors[2], width: 1.2},
    {data: depth35, color: depthColors[1], width: 1.2},
    {data: depth20, color: depthColors[0], width: 1.2}
  ]});
legend({l: 960, t: 732, w: 281, h: 27.5, cy: 745},
  depthNames.map((name, i) => ({name, color: depthColors[i], x: [969, 1023, 1079, 1135, 1190][i]})), 10.5);
</script>
</body>
</html>
